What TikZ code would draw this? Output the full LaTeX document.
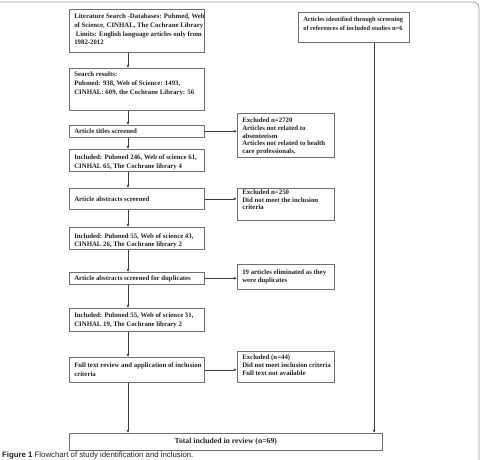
\documentclass[tikz,border=0pt]{standalone}
\usepackage{fontspec}
\setmainfont{Liberation Serif}
\newfontfamily\capfont{Liberation Sans}
\usetikzlibrary{arrows.meta}
\definecolor{boxc}{HTML}{707070}
\definecolor{linec}{HTML}{3C3C3C}
\definecolor{txtc}{HTML}{222222}
\definecolor{framec}{HTML}{9A9A9A}
\newcommand{\bxt}[4]{\parbox[c][#2][t]{#1}{\vspace*{#3}\begin{tabular}[t]{@{}l@{}}#4\end{tabular}}}
\tikzset{
  box/.style={draw=boxc, line width=0.6pt, anchor=north west, inner xsep=5pt, inner ysep=0pt,
    text=txtc, font=\fontsize{6.8}{8.8}\selectfont\bfseries},
  rbox/.style={box, font=\fontsize{6.8}{7.8}\selectfont\bfseries},
  arr/.style={draw=linec, line width=0.6pt, -{Latex[length=3.2pt,width=2.8pt]}},
}
\begin{document}
\begin{tikzpicture}[x=1pt, y=-1pt]
\useasboundingbox (0,0) rectangle (484,459);
% outer frame
\draw[framec, line width=0.8pt, rounded corners=6pt] (0,2) -- (479,2) -- (479,470);
\coordinate (xl) at (128,0);
\coordinate (xr) at (374,0);
% main column
\node[box] (lit) at (69,9) {\bxt{125pt}{43pt}{3.1pt}{Literature Search -Databases: Pubmed, Web\\of Science, CINHAL, The Cochrane Library\\\hspace*{1.5pt}Limits: English language articles only from\\1982-2012}};
\node[box] (res) at (69,68) {\bxt{125pt}{42pt}{2.1pt}{Search results:\\Pubmed: 938, Web of Science: 1493,\\CINHAL: 609, the Cochrane Library: 56}};
\node[box] (tit) at (69,125) {\bxt{125pt}{12pt}{2.1pt}{Article titles screened}};
\node[box] (inc1) at (69,149) {\bxt{125pt}{22pt}{3.8pt}{Included: Pubmed 246, Web of science 61,\\CINHAL 65, The Cochrane library 4}};
\node[box] (abs) at (69,188) {\bxt{125pt}{21pt}{6.6pt}{Article abstracts screened}};
\node[box] (inc2) at (69,227) {\bxt{125pt}{22pt}{4.6pt}{Included: Pubmed 55, Web of science 43,\\CINHAL 26, The Cochrane library 2}};
\node[box] (dup) at (69,272) {\bxt{125pt}{12pt}{2.1pt}{Article abstracts screened for duplicates}};
\node[box] (inc3) at (69,308) {\bxt{125pt}{23pt}{3.1pt}{Included: Pubmed 55, Web of science 31,\\CINHAL 19, The Cochrane library 2}};
\node[box] (full) at (69,357) {\bxt{125pt}{25pt}{3.8pt}{Full text review and application of inclusion\\criteria}};
\node[box, inner xsep=0pt, minimum width=313pt, minimum height=17pt,
  font=\fontsize{7.7}{9}\selectfont\bfseries] (total) at (69,433) {Total included in review (n=69)};
% right column
\node[rbox] (ex1) at (237,113) {\bxt{87pt}{44pt}{3.8pt}{Excluded n=2720\\Articles not related to\\absenteeism\\Articles not related to health\\care professionals.}};
\node[rbox] (ex2) at (237,188) {\bxt{87pt}{32pt}{0.6pt}{Excluded n=250\\Did not meet the inclusion\\criteria}};
\node[rbox] (ex3) at (237,264) {\bxt{87pt}{25pt}{4.5pt}{19 articles eliminated as they\\were duplicates}};
\node[rbox] (ex4) at (237,351) {\bxt{87pt}{31pt}{3.1pt}{Excluded (n=44)\\Did not meet inclusion criteria\\Full text not available}};
\node[box, font=\fontsize{6.4}{8.7}\selectfont\bfseries] (ref) at (298,12) {\bxt{101pt}{30pt}{3.1pt}{Articles identified through screening\\of references of included studies n=6}};
% connectors
\draw[arr] (lit.south -| xl) -- (res.north -| xl);
\draw[arr] (res.south -| xl) -- (tit.north -| xl);
\draw[arr] (tit.south -| xl) -- (inc1.north -| xl);
\draw[arr] (inc1.south -| xl) -- (abs.north -| xl);
\draw[arr] (abs.south -| xl) -- (inc2.north -| xl);
\draw[arr] (inc2.south -| xl) -- (dup.north -| xl);
\draw[arr] (dup.south -| xl) -- (inc3.north -| xl);
\draw[arr] (inc3.south -| xl) -- (full.north -| xl);
\draw[arr] (full.south -| xl) -- (total.north -| xl);
\draw[arr] (tit.east) -- (ex1.west |- tit.east);
\draw[arr] (abs.east) -- (ex2.west |- abs.east);
\draw[arr] (dup.east) -- (ex3.west |- dup.east);
\draw[arr] (full.east) -- (ex4.west |- full.east);
\draw[arr] (ref.south -| xr) -- (total.north -| xr);
% caption
\node[anchor=base west, inner sep=0pt, text=txtc, font=\capfont\fontsize{7.8}{9}\selectfont] (cap) at (2,457)
  {\textbf{Figure 1} Flowchart of study identification and inclusion.};
\end{tikzpicture}
\end{document}
